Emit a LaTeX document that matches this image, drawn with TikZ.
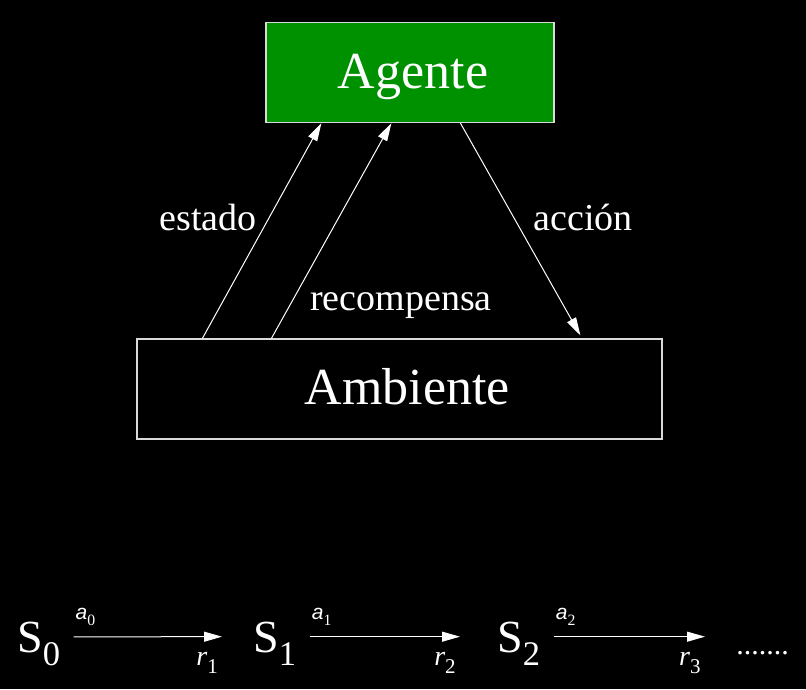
\documentclass[tikz,border=0pt]{standalone}
\usepackage{fontspec}
\setmainfont{Liberation Serif}
\newfontfamily\asans{Liberation Sans}
\usepackage{xcolor}
\usepackage{tikz}
\usetikzlibrary{arrows.meta,positioning}
\definecolor{agentgreen}{RGB}{0,145,0}
\newcommand{\idx}[1]{\raisebox{-0.3em}{\scalebox{0.75}{\upshape\rmfamily #1}}}

\begin{document}
\begin{tikzpicture}[x=0.5pt,y=-0.5pt,
box/.style={draw=white!85!black,line width=0.6pt,minimum width=144pt,minimum height=50pt,inner sep=0pt,text height=20pt,text depth=4.2pt,font=\fontsize{26}{30}\selectfont,text=white},
lbl/.style={anchor=base,text=white,font=\fontsize{19}{22}\selectfont},
state/.style={anchor=base west,inner sep=0pt,text=white,font=\fontsize{23}{26}\selectfont},
alab/.style={pos=0.08,above=2pt,text=white,font=\asans\itshape\fontsize{10.5}{12}\selectfont},
rlab/.style={pos=0.9,below=4pt,text=white,font=\itshape\fontsize{14}{16}\selectfont},
arr/.style={-{Triangle[length=9pt,width=5pt]},white,line width=0.5pt}]
\fill[black] (0,0) rectangle (806,689);
\node[box,fill=agentgreen] (ag) at (410,72.5) {\hspace{3pt}Agente};
\node[box,fill=black,minimum width=262.5pt] (amb) at (399.5,389) {\hspace{8pt}Ambiente};
\draw[arr] ([shift={(66,0)}]amb.north west) -- ([shift={(56,0)}]ag.south west);
\draw[arr] ([shift={(135,0)}]amb.north west) -- ([shift={(126,0)}]ag.south west);
\draw[arr] ([shift={(195,0)}]ag.south west) -- ([shift={(444,-3)}]amb.north west);
\node[lbl] (estado) at (208,231) {estado};
\node[lbl] (recomp) at (401,310) {recompensa};
\node[lbl] (accion) at (583,231) {acción};
% cadena de estados
\node[state] (s0) at (17,652) {S\idx{0}};
\node[state] (s1) at (253,652) {S\idx{1}};
\node[state] (s2) at (497,652) {S\idx{2}};
\node[anchor=base west,inner sep=0pt,text=white,font=\fontsize{15}{18}\selectfont] (dots) at (736,654) {.......};
\draw[arr] ([shift={(13,-7)}]s0.east) -- ([shift={(-31,-7)}]s1.west)
  node[alab] (a0) {a\idx{0}} node[rlab] (r1) {r\idx{1}};
\draw[arr] ([shift={(13,-7)}]s1.east) -- ([shift={(-37,-7)}]s2.west)
  node[alab] (a1) {a\idx{1}} node[rlab] (r2) {r\idx{2}};
\draw[arr] ([shift={(13,-7)}]s2.east) -- ([shift={(-31,-7)}]s2.east -| dots.west)
  node[alab] (a2) {a\idx{2}} node[rlab] (r3) {r\idx{3}};
\end{tikzpicture}
\end{document}
